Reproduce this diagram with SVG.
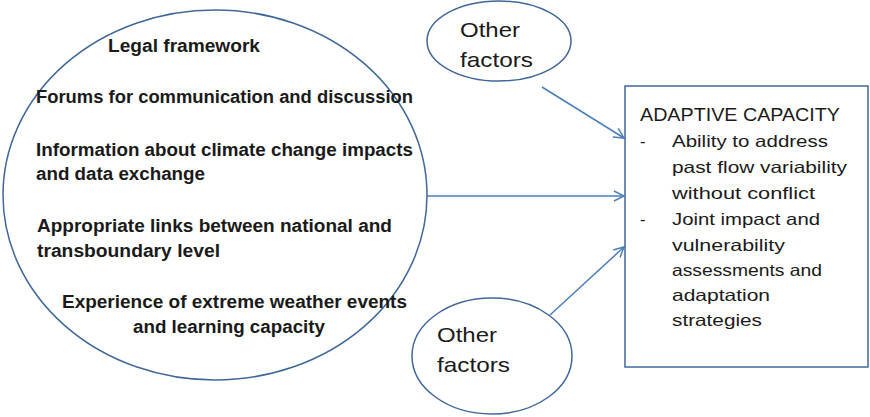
<svg xmlns="http://www.w3.org/2000/svg" width="870" height="417" viewBox="0 0 870 417">
<style>
.shape{fill:#ffffff;stroke:#40679a;stroke-width:1.5}
.b{font-family:"Liberation Sans",Arial,sans-serif;font-weight:bold;font-size:18px;fill:#1a1a1a}
.r{font-family:"Liberation Sans",Arial,sans-serif;font-size:16.5px;fill:#1a1a1a}
.o{font-family:"Liberation Sans",Arial,sans-serif;font-size:21px;fill:#1a1a1a}
.t{font-family:"Liberation Sans",Arial,sans-serif;font-size:19px;fill:#1a1a1a}
.conn{stroke:#4a7ebb;stroke-width:1.5;fill:none}
</style>
<defs>
<marker id="arr" viewBox="0 0 12 12" refX="11" refY="6" markerWidth="12" markerHeight="12" markerUnits="userSpaceOnUse" orient="auto">
<path d="M1,1 L11,6 L1,11" fill="none" stroke="#4a7ebb" stroke-width="1.5"/>
</marker>
</defs>
<rect width="870" height="417" fill="#ffffff"/>
<g id="connectors">
<line class="conn" x1="427" y1="196" x2="624" y2="196" marker-end="url(#arr)"/>
<line class="conn" x1="542" y1="87" x2="624" y2="138" marker-end="url(#arr)"/>
<line class="conn" x1="550" y1="315" x2="624" y2="247" marker-end="url(#arr)"/>
</g>
<g id="factors-main">
<ellipse class="shape" cx="215" cy="195" rx="212" ry="185"/>
<text class="b" x="108" y="52" textLength="152" lengthAdjust="spacingAndGlyphs">Legal framework</text>
<text class="b" x="36" y="103" textLength="377" lengthAdjust="spacingAndGlyphs">Forums for communication and discussion</text>
<text class="b" x="36" y="156" textLength="377" lengthAdjust="spacingAndGlyphs">Information about climate change impacts</text>
<text class="b" x="36" y="180" textLength="169" lengthAdjust="spacingAndGlyphs">and data exchange</text>
<text class="b" x="37" y="232" textLength="355" lengthAdjust="spacingAndGlyphs">Appropriate links between national and</text>
<text class="b" x="37" y="257" textLength="183" lengthAdjust="spacingAndGlyphs">transboundary level</text>
<text class="b" x="62" y="308" textLength="345" lengthAdjust="spacingAndGlyphs">Experience of extreme weather events</text>
<text class="b" x="133" y="333" textLength="192" lengthAdjust="spacingAndGlyphs">and learning capacity</text>
</g>
<g id="other-top">
<ellipse class="shape" cx="499" cy="41" rx="72" ry="40"/>
<text class="o" x="460" y="37" textLength="60" lengthAdjust="spacingAndGlyphs">Other</text>
<text class="o" x="460" y="67" textLength="73" lengthAdjust="spacingAndGlyphs">factors</text>
</g>
<g id="other-bottom">
<ellipse class="shape" cx="492" cy="356" rx="80" ry="58"/>
<text class="o" x="437" y="342" textLength="60" lengthAdjust="spacingAndGlyphs">Other</text>
<text class="o" x="437" y="372" textLength="73" lengthAdjust="spacingAndGlyphs">factors</text>
</g>
<g id="adaptive-capacity">
<rect class="shape" x="625" y="86" width="243" height="281"/>
<text class="t" x="640" y="121" textLength="200" lengthAdjust="spacingAndGlyphs">ADAPTIVE CAPACITY</text>
<text class="r" x="640" y="147">-</text>
<text class="r" x="672" y="147" textLength="156" lengthAdjust="spacingAndGlyphs">Ability to address</text>
<text class="r" x="672" y="173" textLength="175" lengthAdjust="spacingAndGlyphs">past flow variability</text>
<text class="r" x="672" y="199" textLength="143" lengthAdjust="spacingAndGlyphs">without conflict</text>
<text class="r" x="640" y="225">-</text>
<text class="r" x="672" y="225" textLength="148" lengthAdjust="spacingAndGlyphs">Joint impact and</text>
<text class="r" x="672" y="251" textLength="113" lengthAdjust="spacingAndGlyphs">vulnerability</text>
<text class="r" x="672" y="276" textLength="150" lengthAdjust="spacingAndGlyphs">assessments and</text>
<text class="r" x="672" y="301" textLength="98" lengthAdjust="spacingAndGlyphs">adaptation</text>
<text class="r" x="672" y="326" textLength="90" lengthAdjust="spacingAndGlyphs">strategies</text>
</g>
</svg>
